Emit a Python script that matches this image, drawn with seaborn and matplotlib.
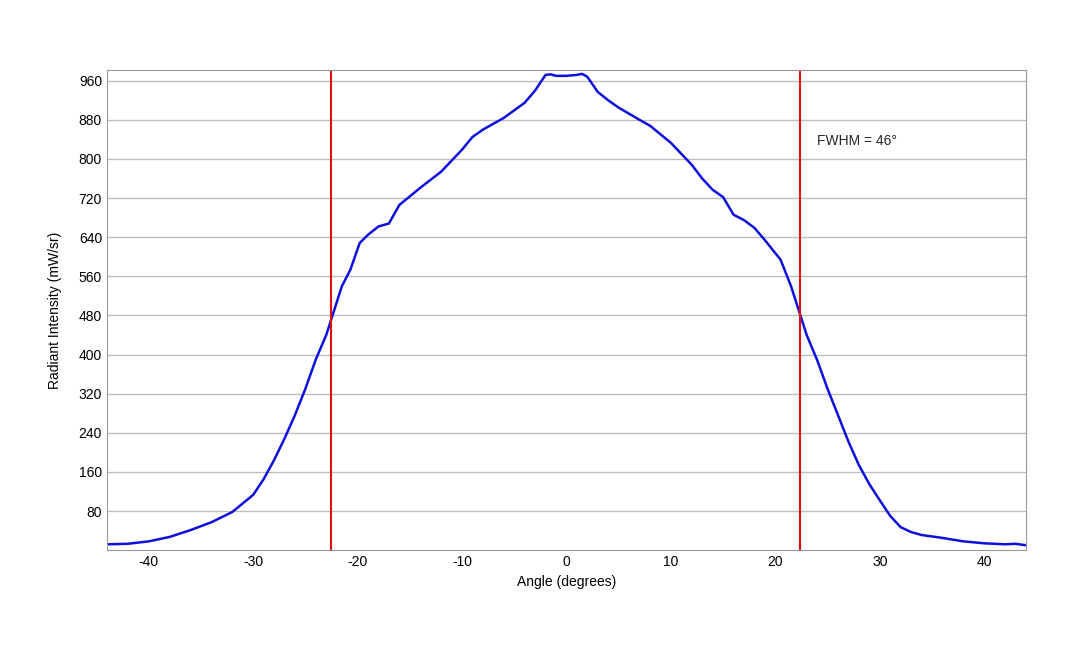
import matplotlib
matplotlib.use("Agg")
import matplotlib.pyplot as plt
import seaborn as sns
import pandas as pd

# Angle (deg) and radiant intensity (mW/sr)
angle = [-44, -42, -40, -38, -36, -34, -32, -30, -29, -28, -27, -26, -25, -24, -23,
         -22.4, -21.5, -20.7, -19.8, -19, -18, -17, -16, -14, -12, -10, -9, -8, -6,
         -4, -3, -2, -1.5, -1, 0, 1, 1.5, 2, 3, 4, 5, 7, 8, 10, 12, 13, 14, 15, 16,
         17, 18, 19, 20.5, 21.5, 22.4, 23, 24, 25, 26, 27, 28, 29, 30, 31, 32, 33,
         34, 36, 38, 40, 42, 43, 44]
intensity = [12, 13, 18, 27, 41, 57, 78, 113, 145, 184, 228, 276, 330, 390, 440,
             480, 540, 573, 628, 645, 662, 668, 706, 741, 774, 819, 845, 860, 884,
             915, 940, 972, 973, 970, 970, 972, 974, 968, 937, 920, 905, 880, 868,
             833, 788, 760, 737, 722, 686, 675, 659, 634, 594, 540, 480, 440, 389,
             330, 276, 222, 174, 135, 102, 70, 47, 37, 31, 25, 18, 14, 12, 13, 10]
fwhm_lines = [-22.5, 22.4]
yticks = [80, 160, 240, 320, 400, 480, 560, 640, 720, 800, 880, 960]
xticks = [-40, -30, -20, -10, 0, 10, 20, 30, 40]

df = pd.DataFrame({"angle": angle, "intensity": intensity})

sns.set_style("white")
plt.rcParams["font.family"] = ["Liberation Sans", "DejaVu Sans"]
plt.rcParams["axes.unicode_minus"] = False

fig = plt.figure(figsize=(10.8, 6.48), dpi=100)
ax = fig.add_axes([0.099, 0.151, 0.851, 0.741])

for y in yticks:
    ax.axhline(y, color="#bdbdbd", lw=1, zorder=0)

sns.lineplot(data=df, x="angle", y="intensity", color="#1010dd", lw=1.8, ax=ax)
for x in fwhm_lines:
    ax.axvline(x, color="#e01010", lw=1.5)

ax.text(24, 837, "FWHM = 46°", fontsize=10, va="center")

ax.set_xlim(-44, 44)
ax.set_ylim(0, 982)
ax.set_xticks(xticks)
ax.set_yticks(yticks)
ax.tick_params(labelsize=10, length=0, colors="black")
ax.set_xlabel("Angle (degrees)", fontsize=10, color="black")
ax.set_ylabel("Radiant Intensity (mW/sr)", fontsize=10, color="black", labelpad=12)
for s in ax.spines.values():
    s.set_color("#999999")

fig.savefig("out.png", dpi=100)
